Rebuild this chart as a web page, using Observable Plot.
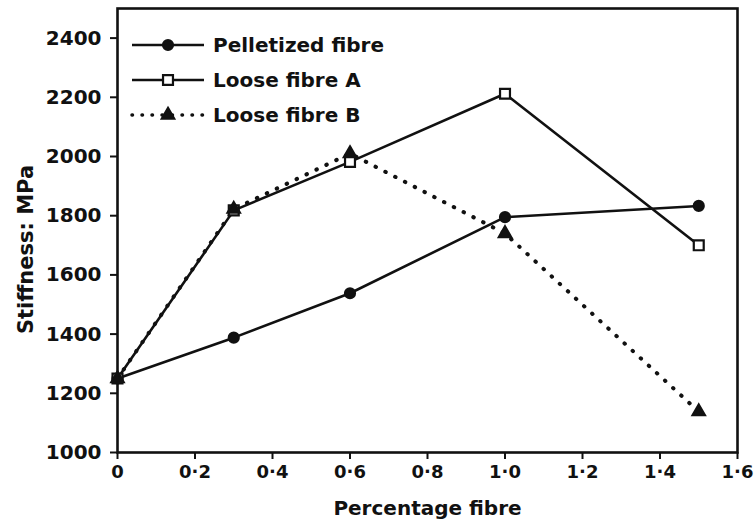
<!DOCTYPE html>
<html><head><meta charset="utf-8">
<script src="https://cdn.jsdelivr.net/npm/d3@7"></script>
<script src="https://cdn.jsdelivr.net/npm/@observablehq/plot@0.6"></script>
<style>
body{margin:0;background:#fff;}
#wrap{position:relative;width:754px;height:527px;}
#legend{position:absolute;left:130px;top:27px;font-family:"DejaVu Sans",sans-serif;font-size:20px;font-weight:bold;color:#111;}
.row{display:flex;align-items:center;height:35px;}
.row svg{margin-right:7px;}
</style></head><body><div id="wrap"><div id="legend"></div></div>
<script>
const fibre = [0, 0.3, 0.6, 1.0, 1.5];
const pelletized = [1250, 1388, 1538, 1795, 1833];
const looseA = [1250, 1818, 1982, 2212, 1700];
const looseB = [1250, 1822, 2010, 1740, 1138];
const seriesNames = ["Pelletized fibre", "Loose fibre A", "Loose fibre B"];
const xTicks = [0, 0.2, 0.4, 0.6, 0.8, 1.0, 1.2, 1.4, 1.6];
const yTicks = [1000, 1200, 1400, 1600, 1800, 2000, 2200, 2400];
const xLabel = "Percentage fibre";
const yLabel = "Stiffness: MPa";

const rows = [];
[pelletized, looseA, looseB].forEach((vals, i) => {
  vals.forEach((v, j) => rows.push({series: seriesNames[i], x: fibre[j], y: v}));
});
const styles = {
  "Pelletized fibre": {symbol: "circle", fill: "#111", r: 5, dash: null, width: 2.6, cap: "butt"},
  "Loose fibre A": {symbol: "square", fill: "#fff", r: 5.6, dash: null, width: 2.6, cap: "butt"},
  "Loose fibre B": {symbol: "triangle", fill: "#111", r: 4.6, dash: "0.5,10.5", width: 4, cap: "round"}
};
const fmt = d => d === 0 ? "0" : d.toFixed(1).replace(".", "·");

const marks = [];
for (const s of seriesNames) {
  const data = rows.filter(r => r.series === s);
  const st = styles[s];
  marks.push(Plot.line(data, {x: "x", y: "y", stroke: "#111", strokeWidth: st.width, strokeDasharray: st.dash, strokeLinecap: st.cap}));
}
for (const s of seriesNames) {
  const data = rows.filter(r => r.series === s);
  const st = styles[s];
  marks.push(Plot.dot(data, {x: "x", y: "y", symbol: () => st.symbol, r: st.r, fill: st.fill, stroke: "#111", strokeWidth: 2.2}));
}

const chart = Plot.plot({
  width: 754, height: 527,
  marginLeft: 117, marginRight: 17, marginTop: 8, marginBottom: 75,
  style: {fontFamily: "DejaVu Sans, sans-serif", fontWeight: "bold", color: "#111", background: "#fff"},
  x: {domain: [0, 1.6]},
  y: {domain: [1000, 2500]},
  symbol: {type: "identity"},
  marks: [
    Plot.axisX({ticks: xTicks, tickFormat: fmt, tickSize: 7, tickPadding: 6, fontSize: 18, strokeWidth: 2, label: null}),
    Plot.text([xLabel], {text: d => d, frameAnchor: "bottom", textAnchor: "middle", dy: 62, fontSize: 20, fontWeight: "bold", fill: "#111"}),
    Plot.axisY({ticks: yTicks, tickFormat: d => String(d), tickSize: 7, tickPadding: 9, fontSize: 20, strokeWidth: 2, label: null}),
    Plot.text([yLabel], {text: d => d, frameAnchor: "left", textAnchor: "middle", rotate: -90, dx: -91, dy: 19, fontSize: 21, fontWeight: "bold", fill: "#111"}),
    Plot.frame({stroke: "#111", strokeWidth: 2.6}),
    ...marks
  ]
});
document.getElementById("wrap").prepend(chart);

// legend
const leg = document.getElementById("legend");
for (const s of seriesNames) {
  const st = styles[s];
  const row = document.createElement("div");
  row.className = "row";
  const sv = d3.create("svg").attr("width", 76).attr("height", 20);
  sv.append("line").attr("x1", 2).attr("x2", 74).attr("y1", 10).attr("y2", 10)
    .attr("stroke", "#111").attr("stroke-width", st.dash ? 3.5 : 2.6)
    .attr("stroke-dasharray", st.dash ? "0.5,9.5" : null).attr("stroke-linecap", st.cap);
  const sym = {circle: d3.symbolCircle, square: d3.symbolSquare, triangle: d3.symbolTriangle}[st.symbol];
  sv.append("path").attr("transform", "translate(38,10)")
    .attr("d", d3.symbol(sym, Math.PI * st.r * st.r)())
    .attr("fill", st.fill).attr("stroke", "#111").attr("stroke-width", 2.2);
  row.appendChild(sv.node());
  const t = document.createElement("span");
  t.textContent = s;
  row.appendChild(t);
  leg.appendChild(row);
}
</script>
</body></html>
